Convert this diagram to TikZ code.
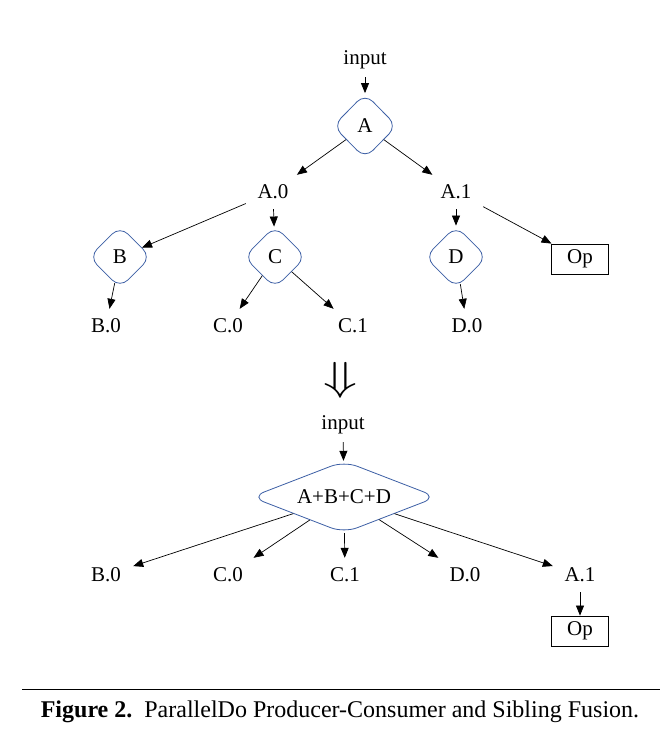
\documentclass[tikz,border=0pt]{standalone}
\usepackage{fontspec}
\setmainfont{Liberation Serif}
\usetikzlibrary{shapes.geometric,arrows.meta}
\definecolor{dblue}{RGB}{60,95,165}
\tikzset{
  x=1pt,y=-1pt,
  lbl/.style={inner sep=0pt,minimum width=54,minimum height=34,font=\fontsize{21}{21}\selectfont},
  op/.style={diamond,draw=dblue,line width=0.8pt,rounded corners=11pt,inner sep=0pt,font=\fontsize{21}{21}\selectfont},
  box/.style={draw,line width=0.8pt,minimum width=57,minimum height=30,inner sep=0pt,font=\fontsize{21}{21}\selectfont},
  arr/.style={line width=0.7pt,-{Triangle[length=10pt,width=8pt]}},
}
\begin{document}
\begin{tikzpicture}
\useasboundingbox[fill=white] (0,0) rectangle (662,738);
% top graph
\node[lbl] (in1) at (365,60) {input};
\node[op,minimum width=64,minimum height=65] (A) at (365,126) {A};
\node[lbl] (A0) at (273,192) {A.0};
\node[lbl] (A1) at (456,192) {A.1};
\node[op,minimum width=62,minimum height=62] (B) at (120,257) {B};
\node[op,minimum width=62,minimum height=62] (C) at (275,257) {C};
\node[op,minimum width=62,minimum height=62] (D) at (456,257) {D};
\node[box] (Op1) at (580,259) {Op};
\node[lbl] (B0) at (106,326) {B.0};
\node[lbl] (C0) at (228,326) {C.0};
\node[lbl] (C1) at (353,326) {C.1};
\node[lbl] (D0) at (467,326) {D.0};
\draw[arr] (in1) -- (A);
\draw[arr] (A) -- (A0);
\draw[arr] (A) -- (A1);
\draw[arr] (A0) -- (B);
\draw[arr] (A0) -- (C);
\draw[arr] (A1) -- (D);
\draw[arr] (A1) -- (Op1);
\draw[arr] (B) -- (B0);
\draw[arr] (C) -- (C0);
\draw[arr] (C) -- (C1);
\draw[arr] (D) -- (D0);
% transformation arrow
\node[inner sep=0pt] (impl) at (340,380) {\resizebox*{34pt}{36pt}{$\Downarrow$}};
% bottom graph
\node[lbl] (in2) at (343,425) {input};
\node[op,aspect=2.63,minimum width=186,minimum height=72,rounded corners=14pt] (F) at (344,497) {A+B+C+D};
\node[lbl] (fB0) at (106,575) {B.0};
\node[lbl] (fC0) at (228,575) {C.0};
\node[lbl] (fC1) at (345,575) {C.1};
\node[lbl] (fD0) at (465,575) {D.0};
\node[lbl] (fA1) at (580,575) {A.1};
\node[box] (Op2) at (580,631) {Op};
\draw[arr] (in2) -- (F);
\draw[arr] (F) -- (fB0);
\draw[arr] (F) -- (fC0);
\draw[arr] (F) -- (fC1);
\draw[arr] (F) -- (fD0);
\draw[arr] (F) -- (fA1);
\draw[arr] (fA1) -- (Op2);
% caption
\coordinate (rl) at (22,689);
\coordinate (rr) at (660,689);
\draw[line width=0.6pt] (rl) -- (rr);
\node[inner sep=0pt,font=\fontsize{24}{24}\selectfont] (cap) at (340,712) {\textbf{Figure 2.}\ \ ParallelDo Producer-Consumer and Sibling Fusion.};
\end{tikzpicture}
\end{document}
